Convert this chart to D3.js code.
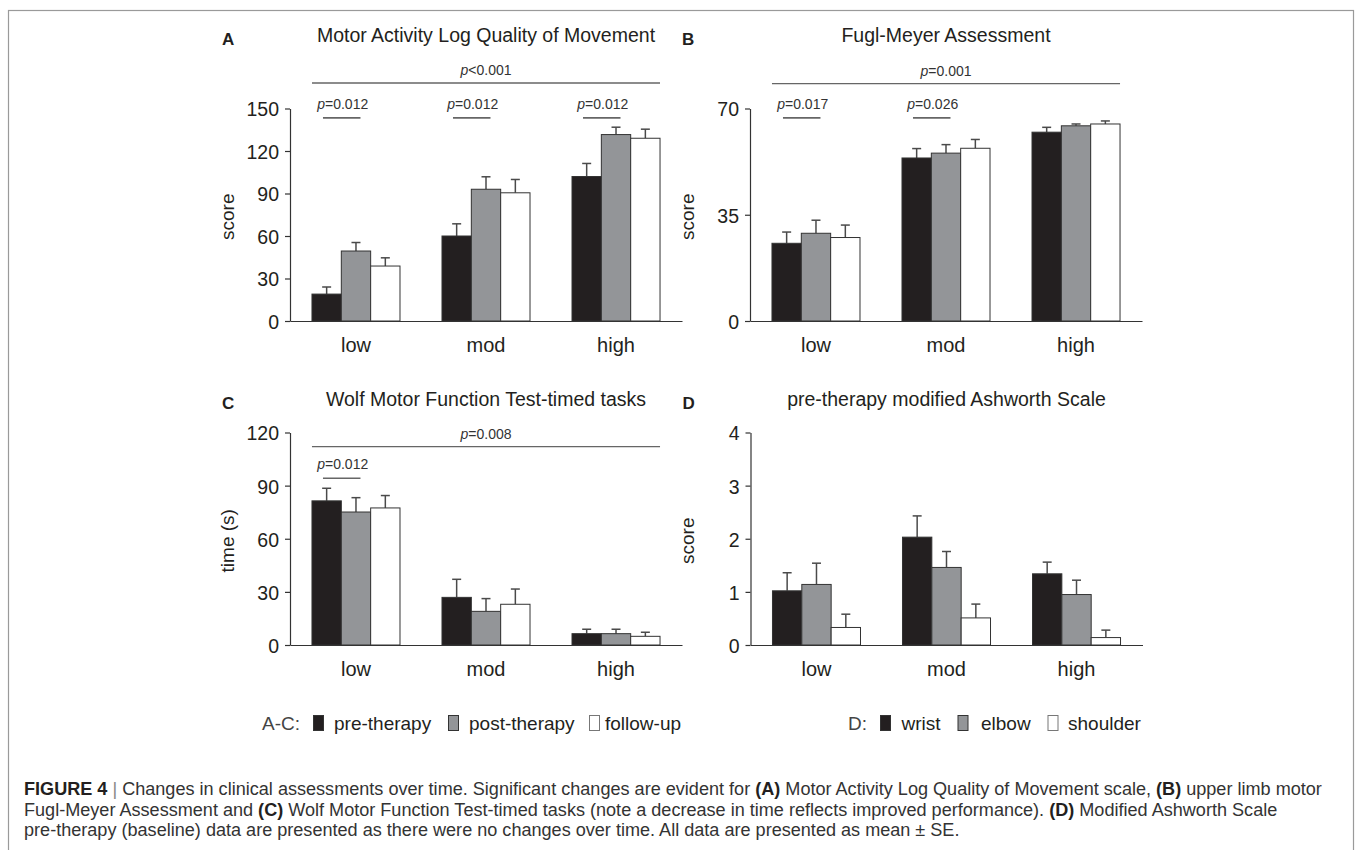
<!DOCTYPE html>
<html>
<head>
<meta charset="utf-8">
<script src="https://cdn.jsdelivr.net/npm/d3@7"></script>
<style>
  html, body { margin: 0; padding: 0; background: #fff; }
  svg { display: block; }
  text { font-family: "Liberation Sans", Arial, Helvetica, sans-serif; }
</style>
</head>
<body>
<svg id="fig" width="1357" height="850"></svg>
<script>
// ---------------- DATA ----------------
const categories = ["low", "mod", "high"];
const seriesAC = ["pre-therapy", "post-therapy", "follow-up"];
const seriesD = ["wrist", "elbow", "shoulder"];
const seriesColors = ["#231f20", "#939598", "#ffffff"];

// Panel A: Motor Activity Log Quality of Movement (mean, SE) per category x series
const malMean = [[19, 49.4, 38.8], [60, 93, 90.5], [102, 131.6, 129]];
const malSE   = [[5, 6, 5.8], [8.6, 8.8, 9.4], [9.2, 5.2, 6.4]];
const malTicks = [0, 30, 60, 90, 120, 150];

// Panel B: Fugl-Meyer Assessment
const fmaMean = [[25.6, 28.9, 27.5], [53.7, 55.3, 56.9], [62.2, 64.3, 64.9]];
const fmaSE   = [[3.7, 4.3, 4.1], [3.1, 2.8, 2.9], [1.6, 0.6, 1.0]];
const fmaTicks = [0, 35, 70];

// Panel C: Wolf Motor Function Test-timed tasks
const wmftMean = [[81.4, 75.1, 77.4], [26.9, 19, 23], [6.4, 6.4, 4.9]];
const wmftSE   = [[7.1, 8.1, 7], [10.2, 7.2, 8.6], [2.5, 2.5, 2.3]];
const wmftTicks = [0, 30, 60, 90, 120];

// Panel D: pre-therapy modified Ashworth Scale
const masMean = [[1.02, 1.14, 0.33], [2.03, 1.46, 0.51], [1.34, 0.95, 0.14]];
const masSE   = [[0.34, 0.40, 0.25], [0.40, 0.30, 0.26], [0.22, 0.27, 0.14]];
const masTicks = [0, 1, 2, 3, 4];

// significance annotations: overall and pairwise (pre vs post) p-values
const malOverall = "<0.001", malPairs = [["low", "=0.012"], ["mod", "=0.012"], ["high", "=0.012"]];
const fmaOverall = "=0.001", fmaPairs = [["low", "=0.017"], ["mod", "=0.026"]];
const wmftOverall = "=0.008", wmftPairs = [["low", "=0.012"]];

// ---------------- DRAWING ----------------
const svg = d3.select("#fig");

// outer frame
svg.append("rect").attr("x", 8.5).attr("y", 10.5).attr("width", 1345).attr("height", 900)
  .attr("fill", "none").attr("stroke", "#9a9a9a").attr("stroke-width", 1.2);

const PLOT_W = 392, PLOT_H = 212.5;

function panel(cfg) {
  const g = svg.append("g");
  const x = d3.scaleBand().domain(categories).range([cfg.x0, cfg.x0 + PLOT_W])
    .paddingInner(0.323).paddingOuter(0.169);
  const s = d3.scaleBand().domain(d3.range(3)).range([0, x.bandwidth()]);
  const y = d3.scaleLinear().domain([0, cfg.max]).range([cfg.yb, cfg.yb - PLOT_H]);

  // panel letter and title
  g.append("text").attr("x", cfg.x0 - 68).attr("y", cfg.titleY + 2.5)
    .attr("font-size", 17).attr("font-weight", "bold").attr("fill", "#231f20").text(cfg.letter);
  g.append("text").attr("x", cfg.x0 + 196).attr("y", cfg.titleY)
    .attr("text-anchor", "middle").attr("font-size", 19.5).attr("fill", "#231f20").text(cfg.title);

  // bars
  categories.forEach((c, ci) => {
    cfg.mean[ci].forEach((v, si) => {
      const bx = x(c) + s(si), bw = s.bandwidth();
      const cx = bx + bw / 2;
      const top = y(v + cfg.se[ci][si]);
      g.append("line").attr("x1", cx).attr("x2", cx).attr("y1", y(v)).attr("y2", top)
        .attr("stroke", "#4a4a4a").attr("stroke-width", 1.5);
      g.append("line").attr("x1", cx - 4.5).attr("x2", cx + 4.5).attr("y1", top).attr("y2", top)
        .attr("stroke", "#4a4a4a").attr("stroke-width", 1.5);
      g.append("rect").attr("x", bx).attr("y", y(v)).attr("width", bw).attr("height", y(0) - y(v))
        .attr("fill", seriesColors[si]).attr("stroke", "#333").attr("stroke-width", 1);
    });
  });

  // y axis
  const ya = g.append("g").attr("transform", `translate(${cfg.x0},0)`)
    .call(d3.axisLeft(y).tickValues(cfg.ticks).tickFormat(d3.format("d"))
      .tickSize(5).tickPadding(6).tickSizeOuter(0));
  ya.selectAll("path,line").attr("stroke", "#333").attr("stroke-width", 1.2);
  ya.selectAll("text").attr("font-size", 19.5).attr("fill", "#231f20").attr("dy", "0.38em")
    .style("font-family", "'Liberation Sans', Arial, sans-serif");

  // x axis
  const xa = g.append("g").attr("transform", `translate(0,${cfg.yb})`)
    .call(d3.axisBottom(x).tickSize(0).tickPadding(16.5).tickSizeOuter(0));
  xa.select(".domain").attr("stroke", "#333").attr("stroke-width", 1.2);
  xa.selectAll("text").attr("font-size", 20).attr("fill", "#231f20")
    .style("font-family", "'Liberation Sans', Arial, sans-serif");

  // y label
  g.append("text").attr("transform", `translate(${cfg.x0 - 56.5},${cfg.yb - PLOT_H / 2 + 2}) rotate(-90)`)
    .attr("text-anchor", "middle").attr("font-size", 19).attr("fill", "#231f20").text(cfg.ylabel);

  // significance annotations
  function pText(xc, yb, val) {
    const t = g.append("text").attr("x", xc).attr("y", yb).attr("text-anchor", "middle")
      .attr("font-size", 14).attr("fill", "#333");
    t.append("tspan").attr("font-style", "italic").text("p");
    t.append("tspan").text(val);
  }
  if (cfg.overall) {
    const x1 = x(categories[0]), x2 = x(categories[2]) + x.bandwidth();
    const ly = y(cfg.overallY);
    g.append("line").attr("x1", x1).attr("x2", x2).attr("y1", ly).attr("y2", ly)
      .attr("stroke", "#666").attr("stroke-width", 1.4);
    pText((x1 + x2) / 2, ly - 8, cfg.overall);
  }
  (cfg.pairs || []).forEach(([c, val]) => {
    const x1 = x(c) + 11, x2 = x(c) + 48.5;
    const ly = y(cfg.pairY);
    g.append("line").attr("x1", x1).attr("x2", x2).attr("y1", ly).attr("y2", ly)
      .attr("stroke", "#666").attr("stroke-width", 1.6);
    pText((x1 + x2) / 2 + 1, ly - 9, val);
  });
}

panel({ x0: 290, yb: 321, max: 150, ticks: malTicks, mean: malMean, se: malSE, letter: "A",
  title: "Motor Activity Log Quality of Movement", titleY: 42, ylabel: "score",
  overall: malOverall, overallY: 168, pairs: malPairs, pairY: 143.4 });
panel({ x0: 750, yb: 321, max: 70, ticks: fmaTicks, mean: fmaMean, se: fmaSE, letter: "B",
  title: "Fugl-Meyer Assessment", titleY: 42, ylabel: "score",
  overall: fmaOverall, overallY: 78.2, pairs: fmaPairs, pairY: 66.9 });
panel({ x0: 290, yb: 645, max: 120, ticks: wmftTicks, mean: wmftMean, se: wmftSE, letter: "C",
  title: "Wolf Motor Function Test-timed tasks", titleY: 406, ylabel: "time (s)",
  overall: wmftOverall, overallY: 112, pairs: wmftPairs, pairY: 94.2 });
panel({ x0: 750.5, yb: 645, max: 4, ticks: masTicks, mean: masMean, se: masSE, letter: "D",
  title: "pre-therapy modified Ashworth Scale", titleY: 406, ylabel: "score" });

// ---------------- LEGENDS ----------------
function legend(prefix, px, names, sqX, txtX) {
  const g = svg.append("g");
  const base = 730;
  g.append("text").attr("x", px).attr("y", base).attr("font-size", 19).attr("fill", "#444").text(prefix);
  names.forEach((n, i) => {
    g.append("rect").attr("x", sqX[i]).attr("y", base - 14.5).attr("width", 10).attr("height", 15)
      .attr("fill", seriesColors[i]).attr("stroke", i === 2 ? "#777" : "#333").attr("stroke-width", 1);
    g.append("text").attr("x", txtX[i]).attr("y", base).attr("font-size", 19).attr("fill", "#231f20").text(n);
  });
}
legend("A-C:", 262, seriesAC, [313.5, 448.5, 589.5], [334, 469, 605]);
legend("D:", 848, seriesD, [880.5, 958, 1048], [901.5, 981, 1068]);

// ---------------- CAPTION ----------------
const capLines = [
  [["b", "FIGURE 4"], ["s", " | "], ["n", "Changes in clinical assessments over time. Significant changes are evident for "], ["b", "(A)"], ["n", " Motor Activity Log Quality of Movement scale, "], ["b", "(B)"], ["n", " upper limb motor"]],
  [["n", "Fugl-Meyer Assessment and "], ["b", "(C)"], ["n", " Wolf Motor Function Test-timed tasks (note a decrease in time reflects improved performance). "], ["b", "(D)"], ["n", " Modified Ashworth Scale"]],
  [["n", "pre-therapy (baseline) data are presented as there were no changes over time. All data are presented as mean ± SE."]]
];
const capY = [795, 815.5, 836];
const capNodes = capLines.map((parts, li) => {
  const t = svg.append("text").attr("x", 24).attr("y", capY[li]).attr("font-size", 16).attr("fill", "#333");
  parts.forEach(([k, s]) => {
    const ts = t.append("tspan").text(s);
    if (k === "b") ts.attr("font-weight", "bold").attr("fill", "#231f20");
    if (k === "s") ts.attr("fill", "#888");
  });
  return t;
});
// fit caption size to the printed line width
const w0 = capNodes[0].node().getComputedTextLength();
const fs = 16 * 1299 / w0;
capNodes.forEach(t => t.attr("font-size", fs));
</script>
</body>
</html>
